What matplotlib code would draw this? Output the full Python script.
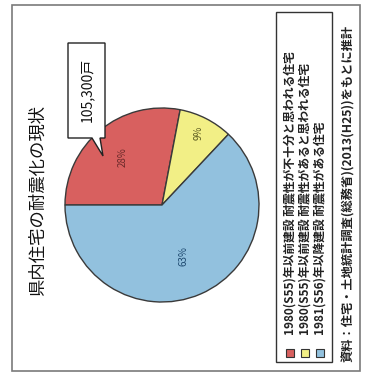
import matplotlib
matplotlib.use("Agg")
import numpy as np
import matplotlib.pyplot as plt
from matplotlib.patches import Rectangle, Polygon

plt.rcParams['font.family'] = ['Noto Sans CJK JP', 'DejaVu Sans']

title = "県内住宅の耐震化の現状"
categories = ["1980(S55)年以前建設 耐震性が不十分と思われる住宅",
              "1980(S55)年以前建設 耐震性があると思われる住宅",
              "1981(S56)年以降建設 耐震性がある住宅"]
shares = [28, 9, 63]
pct_labels = ["28%", "9%", "63%"]
callout = "105,300戸"
source = "資料：住宅・土地統計調査(総務省)(2013(H25))をもとに推計"

colors = ["#d8605f", "#f2ef86", "#92c1de"]
label_colors = ["#6a2a2a", "#5a5a20", "#1f4a70"]
label_r = [0.64, 0.84, 0.57]

W, H = 366, 378
fig = plt.figure(figsize=(W / 100, H / 100), dpi=100)
fig.patch.set_facecolor("white")

# pie, center (162, 205) radius 97 px
cx, cy, r = 162, 205, 97
pie_ax = fig.add_axes([(cx - r) / W, (H - cy - r) / H, 2 * r / W, 2 * r / H])
wedges, _ = pie_ax.pie(shares, colors=colors, startangle=180, counterclock=False,
                       wedgeprops=dict(edgecolor="#3a3a3a", linewidth=1.0))
pie_ax.set_xlim(-1, 1)
pie_ax.set_ylim(-1, 1)
pie_ax.axis("off")
for w, lab, lc, d in zip(wedges, pct_labels, label_colors, label_r):
    ang = np.deg2rad((w.theta1 + w.theta2) / 2)
    pie_ax.text(d * np.cos(ang), d * np.sin(ang), lab, rotation=90, ha="center", va="center",
                fontsize=7, color=lc)

# overlay axes in pixel coords (y downwards)
bg = fig.add_axes([0, 0, 1, 1])
bg.set_xlim(0, W)
bg.set_ylim(H, 0)
bg.axis("off")

bg.add_patch(Rectangle((12, 5), 348, 366, fill=False, ec="#7a7a7a", lw=1.2))
bg.add_patch(Rectangle((276, 12), 56, 350, fill=False, ec="#333333", lw=1.0))

bg.text(38, 200, title, rotation=90, ha="center", va="center", fontsize=12.5, color="#111111")

# callout box with pointer
bg.add_patch(Polygon([(68, 43), (105, 43), (105, 138), (100, 138), (103, 156),
                      (92, 138), (68, 138)], closed=True, fc="white", ec="#222222", lw=1.0, zorder=5))
bg.text(87, 90, callout, rotation=90, ha="center", va="center", fontsize=10, color="#111111", zorder=6)

# legend entries
leg_x = [290, 305, 320]
for x, c, lab in zip(leg_x, colors, categories):
    bg.add_patch(Rectangle((x - 4, 349), 8, 8, fc=c, ec="#333333", lw=0.8))
    bg.text(x, 335, lab, rotation=90, ha="center", va="bottom", fontsize=8.5,
            fontweight="bold", color="#222222")

bg.text(348, 362, source, rotation=90, ha="center", va="bottom", fontsize=8.8,
        fontweight="bold", color="#222222")

fig.savefig("out.png", dpi=100)
